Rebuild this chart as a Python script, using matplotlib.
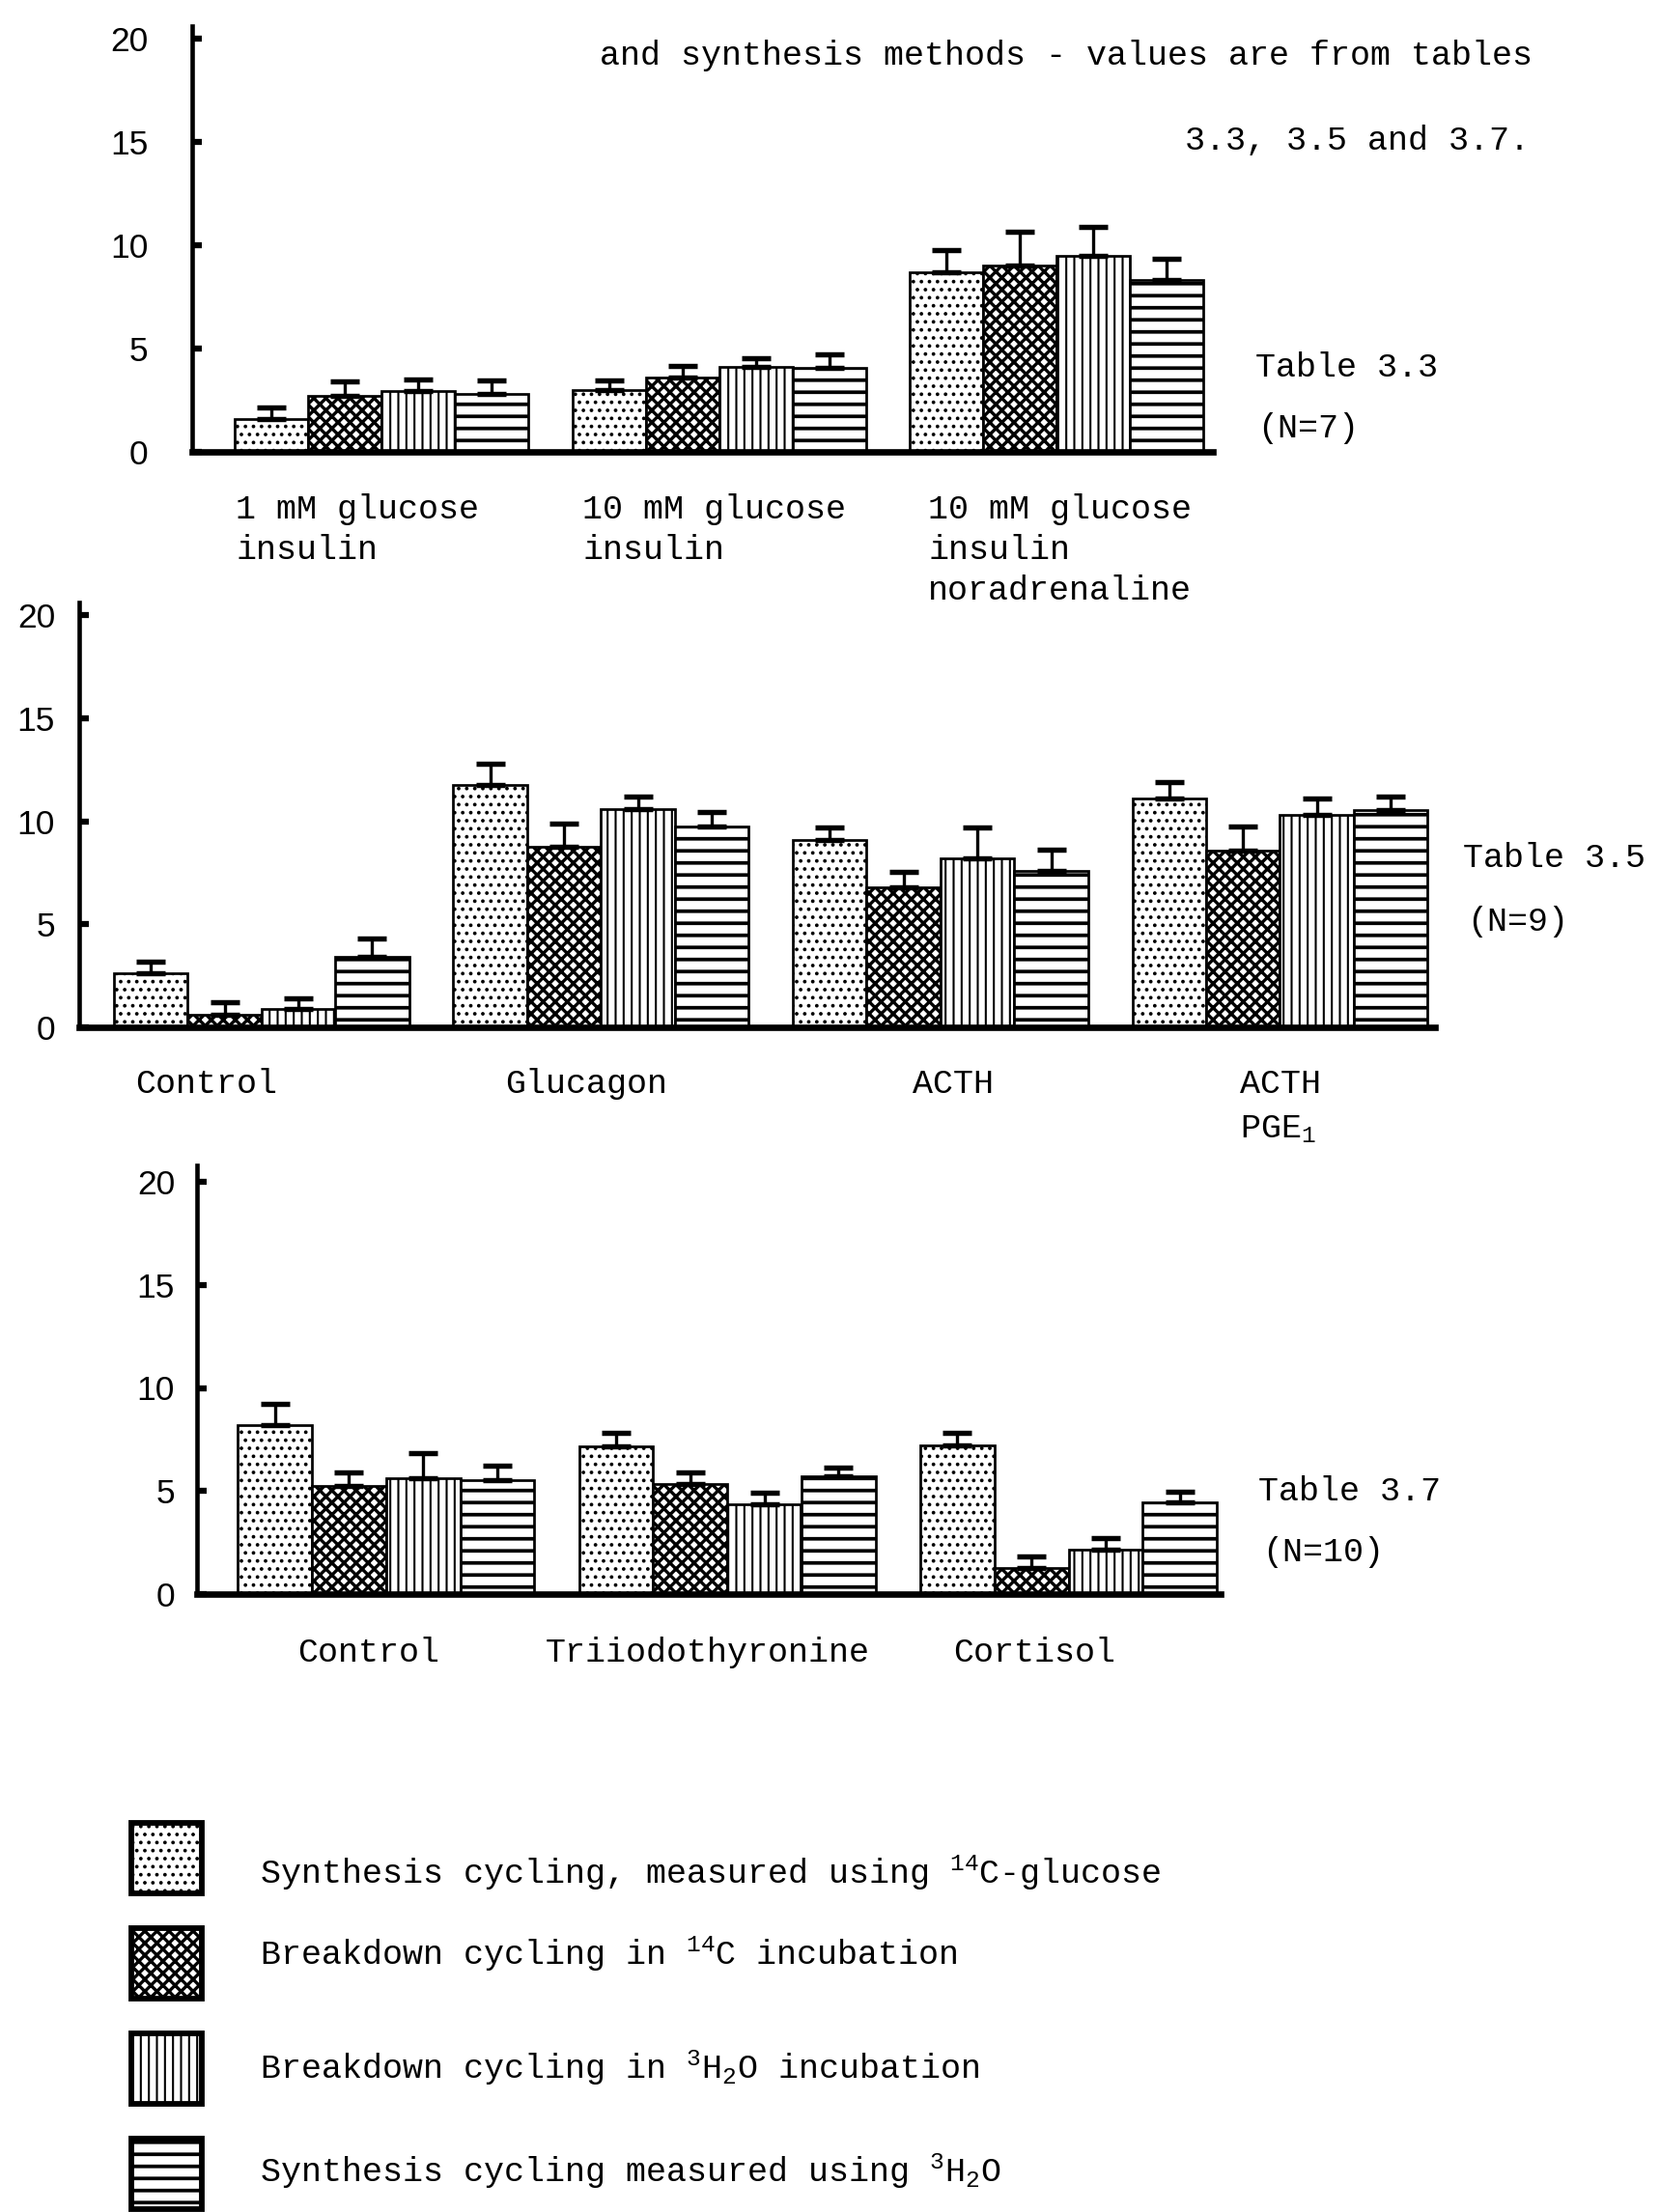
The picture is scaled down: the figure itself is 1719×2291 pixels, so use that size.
import matplotlib
matplotlib.use("Agg")
import matplotlib.pyplot as plt
from matplotlib.patches import Rectangle
import numpy as np

# ---------------- data ----------------
series_names = [
    "Synthesis cycling, measured using $^{14}$C-glucose",
    "Breakdown cycling in $^{14}$C incubation",
    "Breakdown cycling in $^{3}$H$_{2}$O incubation",
    "Synthesis cycling measured using $^{3}$H$_{2}$O",
]

# Table 3.3 (N=7)
t33_cats = ["1 mM glucose\ninsulin", "10 mM glucose\ninsulin", "10 mM glucose\ninsulin\nnoradrenaline"]
t33_syn14 = [1.6, 3.0, 8.7]
t33_syn14_err = [0.55, 0.45, 1.05]
t33_brk14 = [2.7, 3.6, 9.0]
t33_brk14_err = [0.7, 0.55, 1.65]
t33_brk3h = [2.95, 4.1, 9.5]
t33_brk3h_err = [0.55, 0.45, 1.4]
t33_syn3h = [2.8, 4.05, 8.3]
t33_syn3h_err = [0.65, 0.65, 1.05]

# Table 3.5 (N=9)
t35_cats = ["Control", "Glucagon", "ACTH", "ACTH\nPGE$_1$"]
t35_syn14 = [2.6, 11.75, 9.1, 11.1]
t35_syn14_err = [0.6, 1.05, 0.6, 0.8]
t35_brk14 = [0.6, 8.75, 6.8, 8.55]
t35_brk14_err = [0.6, 1.15, 0.75, 1.2]
t35_brk3h = [0.9, 10.6, 8.2, 10.3]
t35_brk3h_err = [0.5, 0.6, 1.5, 0.8]
t35_syn3h = [3.4, 9.75, 7.6, 10.55]
t35_syn3h_err = [0.9, 0.7, 1.0, 0.65]

# Table 3.7 (N=10)
t37_cats = ["Control", "Triiodothyronine", "Cortisol"]
t37_syn14 = [8.2, 7.15, 7.2]
t37_syn14_err = [1.05, 0.65, 0.6]
t37_brk14 = [5.25, 5.35, 1.25]
t37_brk14_err = [0.65, 0.55, 0.6]
t37_brk3h = [5.6, 4.35, 2.15]
t37_brk3h_err = [1.25, 0.55, 0.55]
t37_syn3h = [5.55, 5.7, 4.45]
t37_syn3h_err = [0.7, 0.45, 0.5]

yticks = [0, 5, 10, 15, 20]

# ---------------- style ----------------
W, H = 1719, 2291
DPI = 150
plt.rcParams['mathtext.fontset'] = 'custom'
plt.rcParams['mathtext.rm'] = 'Liberation Mono'
plt.rcParams['mathtext.it'] = 'Liberation Mono'
plt.rcParams['hatch.linewidth'] = 1.2
MONO = 'Liberation Mono'
FS = 16.8
TICKFONT = 'Liberation Sans'
TFS = 17

hatches = ['...', 'xxxx', '|||', '--']
hatch_lw = [1.0, 1.6, 1.0, 1.8]

fig = plt.figure(figsize=(W / DPI, H / DPI), dpi=DPI)
fig.patch.set_facecolor('white')


def fx(px):
    return px / W


def fy(py):
    return 1 - py / H


def ftext(x, y, s, **kw):
    fig.text(fx(x), fy(y), s, family=MONO, fontsize=FS, va='baseline', ha='left', **kw)


def panel(left, right, base, top20, ytop, xlim, pitch, vals, errs, pad):
    unit = (base - top20) / 20.0
    top = base - ytop * unit
    ax = fig.add_axes([fx(left), fy(base), (right - left) / W, (base - top) / H])
    ax.set_xlim(*xlim)
    ax.set_ylim(0, ytop)
    n = len(vals[0])
    starts = np.arange(n) * pitch
    for j in range(4):
        x = starts + j
        bars = ax.bar(x, vals[j], width=1.0, align='edge', facecolor='white',
                      edgecolor='black', hatch=hatches[j], linewidth=1.3, zorder=2)
        for b in bars:
            if hasattr(b, 'set_hatch_linewidth'):
                b.set_hatch_linewidth(hatch_lw[j])
        ax.errorbar(x + 0.5, vals[j], yerr=[np.zeros(n), errs[j]], fmt='none',
                    ecolor='black', elinewidth=1.6, capsize=7, capthick=2.6, zorder=3)
    for s in ['top', 'right']:
        ax.spines[s].set_visible(False)
    ax.spines['left'].set_linewidth(2.2)
    ax.spines['bottom'].set_linewidth(3.2)
    ax.spines['bottom'].set_zorder(4)
    ax.set_xticks([])
    ax.set_yticks(yticks)
    ax.set_yticklabels([str(t) for t in yticks], family=TICKFONT, fontsize=TFS)
    ax.tick_params(axis='y', direction='in', length=5, width=3, pad=pad)
    ax.patch.set_alpha(0)
    return ax


# Panel 1 : Table 3.3
panel(199, 1256, 468, 40, 20.6, (-0.58, 13.33), 4.6,
      [t33_syn14, t33_brk14, t33_brk3h, t33_syn3h],
      [t33_syn14_err, t33_brk14_err, t33_brk3h_err, t33_syn3h_err], 22)

# Panel 2 : Table 3.5
panel(82, 1486, 1064, 637, 20.6, (-0.47, 17.9), 4.6,
      [t35_syn14, t35_brk14, t35_brk3h, t35_syn3h],
      [t35_syn14_err, t35_brk14_err, t35_brk3h_err, t35_syn3h_err], 12)

# Panel 3 : Table 3.7
panel(204, 1264, 1651, 1224, 20.8, (-0.55, 13.25), 4.6,
      [t37_syn14, t37_brk14, t37_brk3h, t37_syn3h],
      [t37_syn14_err, t37_brk14_err, t37_brk3h_err, t37_syn3h_err], 11)

# header text
ftext(621, 67, "and synthesis methods - values are from tables")
ftext(1227, 155, "3.3, 3.5 and 3.7.")

# table labels
ftext(1300, 390, "Table 3.3")
ftext(1302, 453, "(N=7)")
ftext(1515, 898, "Table 3.5")
ftext(1519, 964, "(N=9)")
ftext(1303, 1554, "Table 3.7")
ftext(1307, 1617, "(N=10)")

# category labels
line_gap = 42
for cat, x in zip(t33_cats, [244, 603, 961]):
    for k, line in enumerate(cat.split("\n")):
        ftext(x, 537 + k * line_gap, line)
for cat, x in zip(t35_cats, [140, 523, 945, 1284]):
    for k, line in enumerate(cat.split("\n")):
        ftext(x, 1132 + k * 46, line)
for cat, x in zip(t37_cats, [308, 565, 987]):
    ftext(x, 1721, cat)

# legend
box_tops = [1888, 1997, 2106, 2215]
text_base = [1951, 2035, 2153, 2260]
for j in range(4):
    r = Rectangle((fx(136), fy(box_tops[j] + 73)), 73 / W, 73 / H,
                  transform=fig.transFigure, facecolor='white', edgecolor='black',
                  hatch=hatches[j], linewidth=2.8)
    if hasattr(r, 'set_hatch_linewidth'):
        r.set_hatch_linewidth(hatch_lw[j])
    fig.add_artist(r)
    ftext(269, text_base[j], series_names[j])

fig.savefig("out.png", dpi=DPI, facecolor='white')
